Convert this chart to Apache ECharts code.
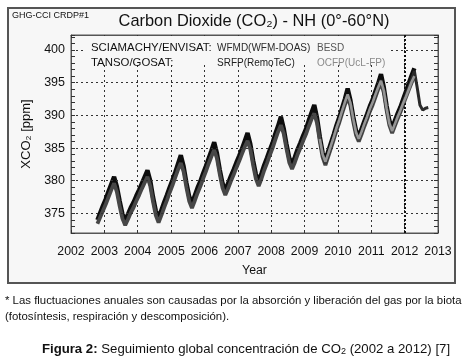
<!DOCTYPE html>
<html>
<head>
<meta charset="utf-8">
<script src="https://cdn.jsdelivr.net/npm/echarts@6/dist/echarts.min.js"></script>
<style>
html,body{margin:0;padding:0;background:#fff;}
#c{width:467px;height:363px;}
</style>
</head>
<body>
<div id="c"></div>
<script>
// ---- data (monthly XCO2, ppm) ----
var yearTicks = [2002,2003,2004,2005,2006,2007,2008,2009,2010,2011,2012,2013];
var ppmGridLines = [375,380,385,390,395,400];

// SCIAMACHY WFMD : Oct 2002 .. Apr 2012
var wfmdStart = [2002, 10];
var wfmd = [
 374.0,375.1,376.2,
 377.2,378.4,379.5,380.6,379.1,376.9,374.9,373.9,374.9,375.9,376.7,377.7,
 378.6,379.6,380.6,381.6,380.0,377.5,375.4,374.3,375.5,376.7,377.8,379.0,
 380.1,381.3,382.6,383.9,382.2,379.7,377.6,376.5,377.7,378.9,379.9,381.1,
 382.2,383.4,384.6,385.9,384.2,381.7,379.6,378.5,379.6,380.7,381.7,382.8,
 383.8,384.9,386.1,387.3,385.6,383.1,381.0,379.9,381.1,382.4,383.5,384.7,
 385.8,387.2,388.4,389.8,388.0,385.6,383.5,382.5,383.6,384.8,385.8,386.9,
 387.9,389.2,390.4,391.6,389.6,386.7,384.3,383.1,384.5,385.8,387.1,388.5,
 389.7,391.1,392.5,394.1,392.3,389.8,387.7,386.7,387.9,389.1,390.2,391.4,
 392.4,393.7,394.9,396.3,394.3,391.5,389.2,388.0,389.2,390.3,391.3,392.5,
 393.7,394.9,396.1,397.2
];
// SCIAMACHY BESD : Oct 2002 .. Apr 2012
var besdStart = [2002, 10];
var besd = [
 373.4,374.4,375.4,
 376.4,377.5,378.6,379.6,378.3,376.1,374.2,373.2,374.1,375.1,375.9,376.9,
 377.8,378.8,379.7,380.6,379.2,376.8,374.7,373.6,374.7,375.9,377.0,378.2,
 379.3,380.5,381.7,382.7,381.4,379.0,376.9,375.8,376.9,378.1,379.1,380.3,
 381.4,382.6,383.7,384.7,383.4,381.0,378.9,377.8,378.8,379.9,380.9,382.0,
 383.0,384.1,385.2,386.1,384.8,382.4,380.3,379.2,380.3,381.6,382.7,383.9,
 385.0,386.3,387.5,388.5,387.2,384.9,382.8,381.8,382.8,384.0,385.0,386.1,
 387.1,388.3,389.4,390.3,388.8,386.0,383.6,382.4,383.7,385.0,386.3,387.7,
 388.9,390.3,391.6,392.8,391.5,389.1,387.0,386.0,387.1,388.3,389.4,390.6,
 391.6,392.8,394.0,395.0,393.5,390.8,388.5,387.3,388.4,389.5,390.5,391.7,
 392.8,393.9,395.0,395.9
];
// GOSAT SRFP : Jun 2009 .. Sep 2012
var srfpStart = [2009, 6];
var srfp = [
 386.3,383.9,382.7,384.0,385.3,386.6,388.0,
 389.2,390.6,391.9,393.2,391.8,389.4,387.3,386.3,387.4,388.6,389.7,390.9,
 391.9,393.1,394.3,395.4,393.8,391.1,388.8,387.6,388.7,389.8,390.8,392.0,
 393.1,394.3,395.5,396.8,394.3,391.6,390.8,391.1,391.2
];
// GOSAT OCFP : Jun 2009 .. Apr 2012
var ocfpStart = [2009, 6];
var ocfp = [
 386.4,384.0,382.9,384.1,385.4,386.7,388.1,
 389.3,390.7,392.0,393.2,391.9,389.5,387.4,386.4,387.5,388.7,389.8,391.0,
 392.0,393.2,394.3,395.3,393.8,391.1,388.8,387.6,388.7,389.8,390.8,391.9,
 392.9,394.0,395.1,396.0
];

function toPoints(start, vals){
  var pts = [];
  for (var i = 0; i < vals.length; i++) {
    pts.push([start[0] + (start[1] - 0.5 + i) / 12, vals[i]]);
  }
  return pts;
}

var chart = echarts.init(document.getElementById('c'), null, {renderer:'canvas'});
var FONT = 'Liberation Sans, Arial, Helvetica, sans-serif';
var dotted = {color:'#333', width:1, type:[2,3]};

var option = {
  backgroundColor:'#ffffff',
  animation:false,
  textStyle:{fontFamily:FONT},
  grid:{left:71, top:35, right:29, bottom:130, show:true, borderColor:'#555', borderWidth:1, backgroundColor:'transparent'},
  xAxis:[{
    type:'value', min:2002, max:2013, interval:1, position:'bottom',
    axisLine:{show:true, lineStyle:{color:'#555'}},
    axisTick:{show:true, inside:true, length:3, lineStyle:{color:'#333'}},
    axisLabel:{color:'#111', fontSize:12.3, margin:13, fontFamily:FONT, formatter:function(v){return String(v);}},
    splitLine:{show:true, lineStyle:dotted},
    name:'Year', nameLocation:'middle', nameGap:32,
    nameTextStyle:{color:'#111', fontSize:12.3, fontFamily:FONT}
  },{
    type:'value', min:2002, max:2013, interval:1, position:'top',
    axisLine:{show:true, lineStyle:{color:'#555'}},
    axisTick:{show:true, inside:true, length:3, lineStyle:{color:'#333'}},
    axisLabel:{show:false}, splitLine:{show:false}
  }],
  yAxis:[{
    type:'value', min:372, max:402.3, interval:1, position:'left',
    axisLine:{show:true, lineStyle:{color:'#555'}},
    axisTick:{show:true, inside:true, length:4, lineStyle:{color:'#333'}},
    axisLabel:{color:'#111', fontSize:12.5, margin:6, fontFamily:FONT,
      formatter:function(v){ return (Math.abs(v % 5) < 1e-6) ? String(v) : ''; }},
    splitLine:{show:false},
    name:'XCO\u2082 [ppm]', nameLocation:'middle', nameGap:37, nameRotate:90,
    nameTextStyle:{color:'#111', fontSize:13, fontFamily:FONT}
  },{
    type:'value', min:372, max:402.3, interval:1, position:'right',
    axisLine:{show:true, lineStyle:{color:'#555'}},
    axisTick:{show:true, inside:true, length:4, lineStyle:{color:'#333'}},
    axisLabel:{show:false}, splitLine:{show:false}
  }],
  series:[
    {
      name:'grid', type:'line', data:[], silent:true,
      markLine:{
        silent:true, symbol:['none','none'], label:{show:false},
        lineStyle:dotted,
        data: ppmGridLines.map(function(v){return {yAxis:v};})
          .concat([{xAxis:2012, lineStyle:{color:'#111', width:2, type:[2,2]}}])
      }
    },
    {name:'WFMD', type:'line', data:toPoints(wfmdStart, wfmd), showSymbol:false, symbol:'none',
     lineStyle:{color:'#0d0d0d', width:4.4}, z:3},
    {name:'BESD', type:'line', data:toPoints(besdStart, besd), showSymbol:false, symbol:'none',
     lineStyle:{color:'#474747', width:3.8}, z:4},
    {name:'SRFP', type:'line', data:toPoints(srfpStart, srfp), showSymbol:false, symbol:'none',
     lineStyle:{color:'#2a2a2a', width:3}, z:5},
    {name:'OCFP', type:'line', data:toPoints(ocfpStart, ocfp), showSymbol:false, symbol:'none',
     lineStyle:{color:'#959595', width:2.6}, z:6}
  ],
  graphic:[
    {type:'rect', z:-10, shape:{x:8, y:8, width:447, height:275},
     style:{fill:'#f7f7f7', stroke:'#555', lineWidth:2}},
    {type:'rect', z:50, shape:{x:84, y:36, width:304, height:29},
     style:{fill:'#f7f7f7', stroke:null}},
    {type:'text', z:100, x:12, y:16, style:{text:'GHG-CCI CRDP#1', font:'9px '+FONT, fill:'#111', textVerticalAlign:'middle'}},
    {type:'text', z:100, x:254, y:21, style:{text:'Carbon Dioxide (CO\u2082) - NH (0\u00b0-60\u00b0N)', font:'16.4px '+FONT, fill:'#111', textAlign:'center', textVerticalAlign:'middle'}},
    {type:'text', z:100, x:91, y:48, style:{text:'SCIAMACHY/ENVISAT:', font:'11.4px '+FONT, fill:'#111', textVerticalAlign:'middle'}},
    {type:'text', z:100, x:91, y:63, style:{text:'TANSO/GOSAT:', font:'11.4px '+FONT, fill:'#111', textVerticalAlign:'middle'}},
    {type:'text', z:100, x:217, y:48, style:{text:'WFMD(WFM-DOAS)', font:'10px '+FONT, fill:'#2a2a2a', textVerticalAlign:'middle'}},
    {type:'text', z:100, x:317, y:48, style:{text:'BESD', font:'10px '+FONT, fill:'#555', textVerticalAlign:'middle'}},
    {type:'text', z:100, x:217, y:63, style:{text:'SRFP(RemoTeC)', font:'10px '+FONT, fill:'#222', textVerticalAlign:'middle'}},
    {type:'text', z:100, x:317, y:63, style:{text:'OCFP(UcL-FP)', font:'10px '+FONT, fill:'#8a8a8a', textVerticalAlign:'middle'}},
    {type:'text', z:100, x:5, y:301, style:{text:'* Las fluctuaciones anuales son causadas por la absorci\u00f3n y liberaci\u00f3n del gas por la biota', font:'11.4px '+FONT, fill:'#111', textVerticalAlign:'middle'}},
    {type:'text', z:100, x:5, y:317, style:{text:'(fotos\u00edntesis, respiraci\u00f3n y descomposici\u00f3n).', font:'11.4px '+FONT, fill:'#111', textVerticalAlign:'middle'}},
    {type:'text', z:100, x:246, y:349, style:{
      text:'{b|Figura 2:} Seguimiento global concentraci\u00f3n de CO{s|2} (2002 a 2012) [7]',
      font:'13.2px '+FONT, fill:'#111', textAlign:'center', textVerticalAlign:'middle',
      rich:{b:{fontWeight:'bold', fontSize:13.2, fontFamily:FONT, fill:'#111'},
            s:{fontSize:9, fontFamily:FONT, fill:'#111', padding:[6,0,0,0]}}
    }}
  ]
};
chart.setOption(option);
</script>
</body>
</html>
